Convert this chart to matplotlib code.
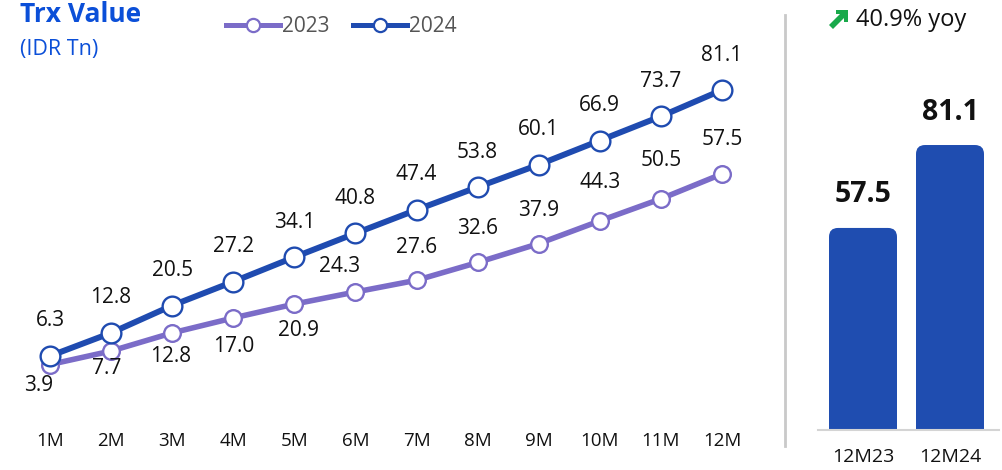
import matplotlib
matplotlib.use("Agg")
import matplotlib.pyplot as plt
from matplotlib.patches import FancyBboxPatch, Polygon
from matplotlib.lines import Line2D

# ---- data -------------------------------------------------------------
months = ["1M", "2M", "3M", "4M", "5M", "6M", "7M", "8M", "9M", "10M", "11M", "12M"]
trx_2023 = [3.9, 7.7, 12.8, 17.0, 20.9, 24.3, 27.6, 32.6, 37.9, 44.3, 50.5, 57.5]
trx_2024 = [6.3, 12.8, 20.5, 27.2, 34.1, 40.8, 47.4, 53.8, 60.1, 66.9, 73.7, 81.1]
ytd_labels = ["12M23", "12M24"]
ytd_values = [57.5, 81.1]
yoy_text = "40.9% yoy"

# ---- style ------------------------------------------------------------
FONT = "Open Sans"
plt.rcParams["font.family"] = [FONT, "DejaVu Sans"]
C_2023 = "#7b6cc8"
C_2024 = "#1f4bb0"
C_BAR = "#1f4db0"
C_TITLE = "#0b4fd8"
C_TEXT = "#111111"
C_LEG = "#555555"

W, H = 1002, 470
fig = plt.figure(figsize=(W / 100, H / 100), dpi=100)


def fx(px):
    return px / W


def fy(py):
    return 1 - py / H


# label offsets (pixels) for the 2023 series: below for early months, above later
off_2023 = [(-11, -21), (-4, -17), (-2, -24), (0, -29), (4, -26), (-16, 25),
            (0, 33), (0, 34), (0, 33), (0, 38), (0, 38), (0, 34)]
off_2024 = [(0, 35)] * 12

# ---- line chart -------------------------------------------------------
ax = fig.add_axes([0, fy(425), fx(785), 1 - fy(425)])
x = list(range(1, len(months) + 1))
ax.plot(x, trx_2023, color=C_2023, lw=4.0, marker="o", ms=12,
        mfc="white", mec=C_2023, mew=1.7, zorder=3, solid_capstyle="round")
ax.plot(x, trx_2024, color=C_2024, lw=4.3, marker="o", ms=14.2,
        mfc="white", mec=C_2024, mew=1.7, zorder=4, solid_capstyle="round")

for xi, v, (dx, dy) in zip(x, trx_2023, off_2023):
    ax.annotate(f"{v:.1f}", (xi, v), xytext=(dx, dy), textcoords="offset pixels",
                ha="center", va="center", fontsize=15, color=C_TEXT)
for xi, v, (dx, dy) in zip(x, trx_2024, off_2024):
    ax.annotate(f"{v:.1f}", (xi, v), xytext=(dx, dy), textcoords="offset pixels",
                ha="center", va="center", fontsize=15, color=C_TEXT)

step = 61.09
ax.set_xlim(1 - 50 / step, 1 + (785 - 50) / step)
ax.set_ylim((378.4 - 425) / 3.556, 378.4 / 3.556)
ax.set_xticks(x)
ax.set_xticklabels(months, fontsize=13.5, color=C_TEXT)
ax.tick_params(axis="x", length=0, pad=5)
ax.set_yticks([])
for s in ax.spines.values():
    s.set_visible(False)
ax.patch.set_alpha(0)

# legend
handles = [
    Line2D([], [], color=C_2023, lw=3.6, marker="o", ms=9.5, mfc="white", mec=C_2023, mew=1.6),
    Line2D([], [], color=C_2024, lw=3.6, marker="o", ms=9.5, mfc="white", mec=C_2024, mew=1.6),
]
leg = fig.legend(handles, ["2023", "2024"], loc="center left",
                 bbox_to_anchor=(fx(226), fy(27)), ncol=2, frameon=False,
                 fontsize=15, handlelength=2.6, handletextpad=0.1,
                 columnspacing=1.1, borderpad=0, borderaxespad=0)
for t in leg.get_texts():
    t.set_color(C_LEG)

# title
fig.text(fx(20), fy(15), "Trx Value", fontsize=19, fontweight="bold",
         color=C_TITLE, ha="left", va="center")
fig.text(fx(20), fy(49), "(IDR Tn)", fontsize=15.5, color=C_TITLE,
         ha="left", va="center")

# separator
fig.add_artist(Line2D([fx(785), fx(785)], [fy(15), fy(446)], color="#c9c9c9", lw=2))

# ---- YTD bar chart ----------------------------------------------------
bx = fig.add_axes([fx(818), fy(430), fx(999) - fx(818), 1 - fy(430)])
bstep = 87.0
bx.set_xlim(-(863 - 818) / bstep, 1 + (999 - 950) / bstep)
bx.set_ylim(0, 430 / 3.514)
bars = bx.bar(range(len(ytd_values)), ytd_values, width=68 / bstep, color=C_BAR)
fig.canvas.draw()
# rounded top corners: a rounded box extending below the baseline, clipped by the axes
px_per_x = bx.transData.transform((1, 0))[0] - bx.transData.transform((0, 0))[0]
px_per_y = bx.transData.transform((0, 1))[1] - bx.transData.transform((0, 0))[1]
rad_px = 9
for b in bars:
    b.set_visible(False)
    x0, w, h = b.get_x(), b.get_width(), b.get_height()
    pad = rad_px / px_per_x
    patch = FancyBboxPatch((x0 + pad, -20 + pad * px_per_x / px_per_y),
                           w - 2 * pad, h + 20 - 2 * pad * px_per_x / px_per_y,
                           boxstyle=f"round,pad={pad},rounding_size={pad}",
                           mutation_aspect=px_per_x / px_per_y,
                           fc=C_BAR, ec="none", clip_on=True)
    bx.add_patch(patch)
    patch.set_clip_path(bx.patch)
for i, v in enumerate(ytd_values):
    bx.annotate(f"{v:.1f}", (i, v), xytext=(0, 33), textcoords="offset pixels",
                ha="center", va="center", fontsize=20.5, fontweight="bold", color=C_TEXT)
bx.set_xticks(range(len(ytd_labels)))
bx.set_xticklabels(ytd_labels, fontsize=14, color=C_TEXT)
bx.tick_params(axis="x", length=0, pad=13)
bx.set_yticks([])
for k, s in bx.spines.items():
    s.set_visible(k == "bottom")
bx.spines["bottom"].set_color("#d4d4d4")
bx.spines["bottom"].set_linewidth(1.5)
bx.patch.set_alpha(0)

# yoy growth badge
arrow_px = [(829, 25), (840, 14), (836, 14), (836, 10), (848, 10), (848, 22),
            (844, 22), (844, 18), (833, 29)]
fig.add_artist(Polygon([(fx(a), fy(b)) for a, b in arrow_px], closed=True,
                       fc="#19a94b", ec="none", transform=fig.transFigure))
fig.text(fx(856), fy(20), yoy_text, fontsize=17, color=C_TEXT, ha="left", va="center")

fig.savefig("out.png", dpi=100)
